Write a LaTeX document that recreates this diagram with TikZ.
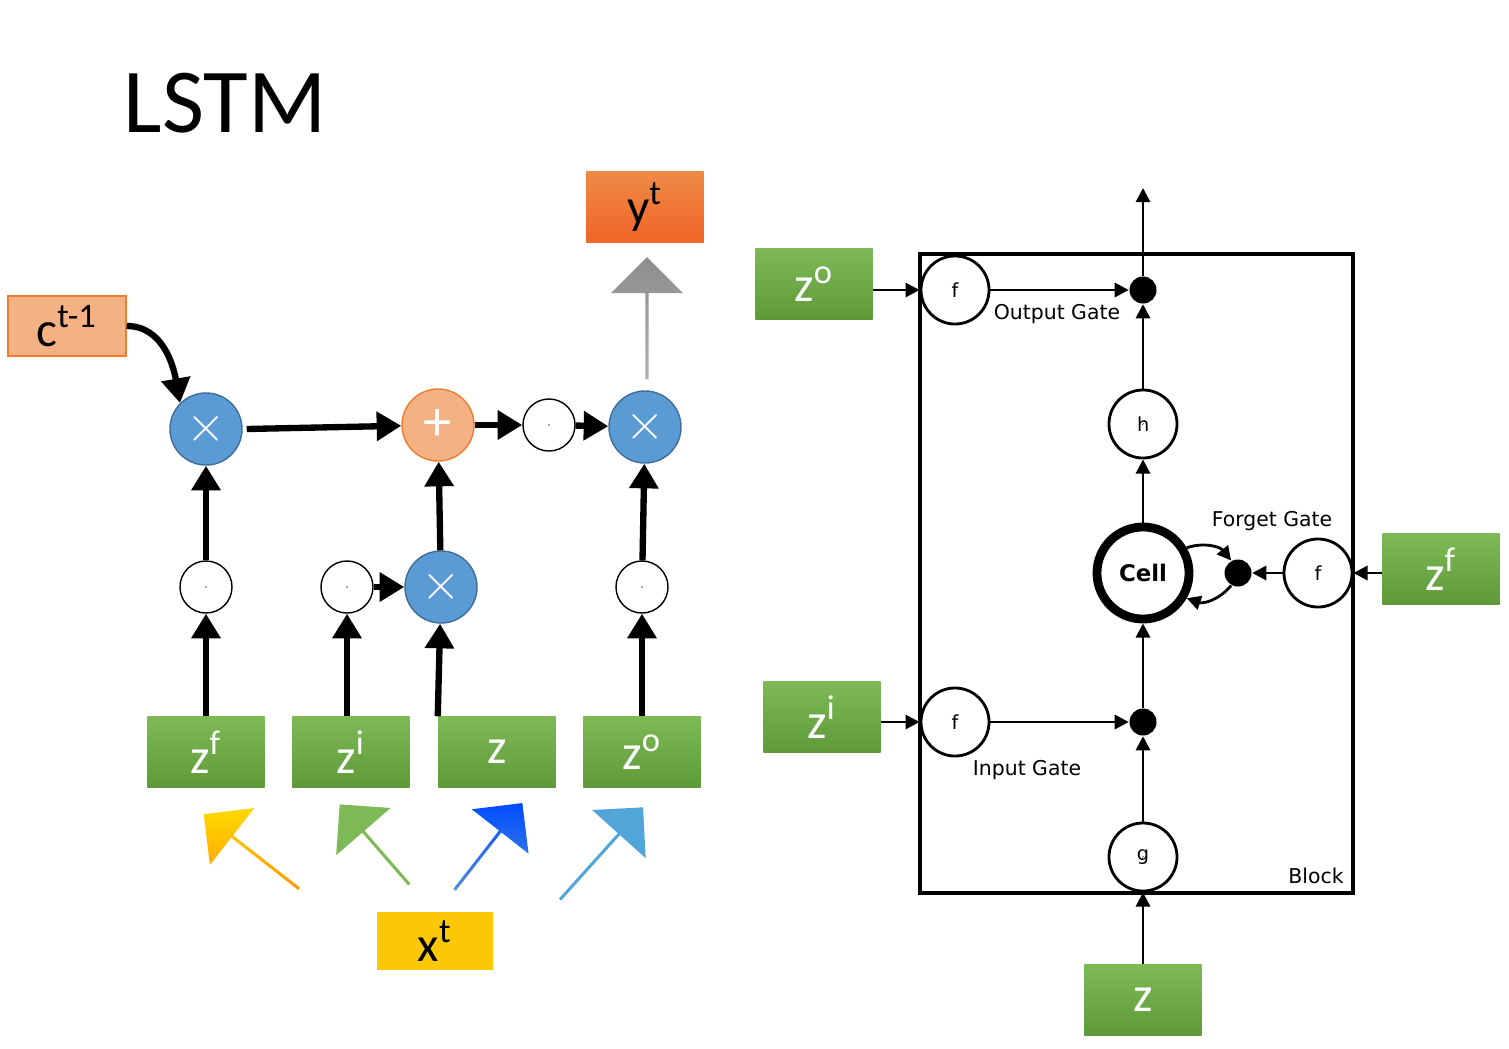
\documentclass[tikz,border=0pt]{standalone}
\usepackage{fontspec}
\setmainfont{Carlito}
\newfontfamily\dejavu{DejaVu Sans}
\usetikzlibrary{arrows.meta,shapes.arrows,positioning}
\definecolor{ltblue}{HTML}{5B9BD5}
\definecolor{ltorange}{HTML}{F4B183}
\definecolor{dkorange}{HTML}{ED7D31}
\definecolor{ltgreen}{HTML}{7DB955}
\definecolor{dkgreen}{HTML}{5E9A38}
\tikzset{
  gbox/.style={rectangle, minimum width=1.17cm, minimum height=0.70cm, top color=ltgreen, bottom color=dkgreen, text=white, font=\fontsize{14}{14}\selectfont, inner sep=0pt},
  mult/.style={circle, draw=ltblue!70!black, fill=ltblue, minimum size=0.72cm, text=white, font=\fontsize{14}{14}\selectfont, inner sep=0pt},
  sig/.style={circle, draw, minimum size=0.52cm, inner sep=0pt},
  rsig/.style={circle, draw, thick, minimum size=0.68cm, inner sep=0pt},
  dot/.style={circle, fill, minimum size=0.27cm, inner sep=0pt},
  fat/.style={line width=1.8pt, -{Triangle[length=7pt,width=8pt]}},
  thin/.style={line width=0.8pt, -{Triangle[length=4pt,width=4pt]}},
  bigarr/.style={single arrow, minimum width=0.72cm, single arrow head extend=0.16cm, inner sep=0pt, single arrow head indent=0pt},
  rlab/.style={font=\dejavu\fontsize{5.8}{6}\selectfont},
}
\newcommand\lcurve[1]{\draw[line width=0.6pt] ([shift={(-0.15,-0.12)}]#1.center) .. controls +(0.12,0) and +(-0.06,-0.1) .. ([shift={(0,0)}]#1.center) .. controls +(0.06,0.1) and +(-0.12,0) .. ([shift={(0.15,0.12)}]#1.center);}
\newcommand\rcurve[2]{\draw[line width=0.6pt] ([shift={(-0.22,-0.12)}]#1.center) .. controls +(0.12,0) and +(-0.05,-0.12) .. ([shift={(-0.05,0.02)}]#1.center) .. controls +(0.05,0.12) and +(-0.12,0) .. ([shift={(0.12,0.15)}]#1.center);
  \node[font=\dejavu\fontsize{5.5}{6}\selectfont] at ([shift={(0.12,-0.1)}]#1.center) {#2};}
\begin{document}
\begin{tikzpicture}[x=0.01cm, y=-0.01cm]
\useasboundingbox (0,0) rectangle (1509,1048);
% title
\node[font=\fontsize{26}{26}\selectfont] (title) at (225,103) {LSTM};

% left side - boxes
\node[rectangle, minimum width=1.17cm, minimum height=0.70cm, top color=dkorange!90, bottom color=dkorange!80!red, font=\fontsize{14}{14}\selectfont, inner sep=0pt] (yt) at (645,207) {y\textsuperscript{t}};
\node[rectangle, draw=dkorange, fill=ltorange, minimum width=1.18cm, minimum height=0.60cm, font=\fontsize{14}{14}\selectfont, inner sep=0pt] (ct) at (67,326) {c\textsuperscript{t-1}};
\node[bigarr, rotate=90, minimum height=1.22cm, top color=gray!90, bottom color=gray!60] (yarr) at (647,319) {};

\node[mult] (m1) at (206,429) {$\times$};
\node[circle, draw=dkorange, fill=ltorange, minimum size=0.72cm, text=white, font=\fontsize{16}{16}\selectfont, inner sep=0pt] (plus) at (438,425) {+};
\node[sig] (s4) at (549,425) {};
\node[mult] (m3) at (645,427) {$\times$};
\node[mult] (m2) at (441,587) {$\times$};
\node[sig] (s1) at (206,587) {};
\node[sig] (s2) at (347,587) {};
\node[sig] (s3) at (642,587) {};
\foreach \s in {s1,s2,s3,s4} {\lcurve{\s}}

\node[gbox] (zf) at (206,752) {z\textsuperscript{f}};
\node[gbox] (zi) at (351,752) {z\textsuperscript{i}};
\node[gbox] (z) at (497,752) {z};
\node[gbox] (zo) at (642,752) {z\textsuperscript{o}};
\node[rectangle, fill=orange!40!yellow!95!red, fill=yellow!60!orange, minimum width=1.16cm, minimum height=0.58cm, font=\fontsize{14}{14}\selectfont, inner sep=0pt] (xt) at (435,941) {x\textsuperscript{t}};

% left side - connections
\draw[fat] (ct.east) to[out=0, in=100] (m1.north west);
\draw[fat] (zf) -- (s1);
\draw[fat] (s1) -- (m1);
\draw[fat] (zi.north -| s2) -- (s2);
\draw[fat] (s2) -- (m2);
\draw[fat] (z.north west) -- (m2);
\draw[fat] (m2) -- (plus);
\draw[fat] ([xshift=0.04cm]m1.east) -- (plus);
\draw[fat] (plus) -- (s4);
\draw[fat] (s4) -- (m3);
\draw[fat] (zo.north) -- (s3);
\draw[fat] (s3) -- (m3);

% left side - input arrows
\node[bigarr, rotate=142, minimum height=1.21cm, top color=yellow!70!orange, bottom color=orange!80!yellow] (a1) at (252,852) {};
\node[bigarr, rotate=131, minimum height=1.06cm, fill=ltgreen] (a2) at (375,845) {};
\node[bigarr, rotate=52, minimum height=1.10cm, top color=blue!70!cyan, bottom color=ltblue!90!blue] (a3) at (488,847) {};
\node[bigarr, rotate=48, minimum height=1.24cm, fill=ltblue!90!cyan] (a4) at (601,854) {};

% right side - block
\draw[line width=1pt] (920,254) rectangle (1353,893);
\node[rlab] (blk) at (1316,876) {Block};

\node[rsig] (so) at (955,290) {};
\node[rsig] (sh) at (1143,424) {};
\node[rsig] (sf) at (1318,573) {};
\node[rsig] (si) at (955,722) {};
\node[rsig] (sg) at (1143,857) {};
\rcurve{so}{f}
\rcurve{sh}{h}
\rcurve{sf}{f}
\rcurve{si}{f}
\rcurve{sg}{g}

\node[dot] (do) at (1143,290) {};
\node[dot] (df) at (1238,573) {};
\node[dot] (di) at (1143,722) {};
\node[circle, draw, line width=2.5pt, minimum size=0.92cm, font=\dejavu\bfseries\fontsize{6.5}{7}\selectfont, inner sep=0pt] (cell) at (1143,573) {Cell};
\coordinate (out) at (1143,188);

\node[rlab] (lo) at (1057,314) {Output Gate};
\node[rlab] (lf) at (1272,521) {Forget Gate};
\node[rlab] (li) at (1027,770) {Input Gate};

\node[gbox] (rzo) at (814,284) {z\textsuperscript{o}};
\node[gbox] (rzf) at (1441,569) {z\textsuperscript{f}};
\node[gbox] (rzi) at (822,717) {z\textsuperscript{i}};
\node[gbox] (rz) at (1143,1000) {z};

% right side - connections
\draw[thin] (rzo.east |- so) -- (so);
\draw[thin] (so) -- (do);
\draw[thin] (do) -- (out);
\draw[thin] (sh) -- (do);
\draw[thin] (cell) -- (sh);
\draw[thin] (rzf.west |- sf) -- (sf);
\draw[thin] (sf) -- (df);
\draw[thin] (cell.30) to[bend left=35] (df);
\draw[thin] (df) to[bend left=35] (cell.-30);
\draw[thin] (rzi.east |- si) -- (si);
\draw[thin] (si) -- (di);
\draw[thin] (di) -- (cell);
\draw[thin] (sg) -- (di);
\draw[thin] (rz) -- (sg);
\end{tikzpicture}
\end{document}
